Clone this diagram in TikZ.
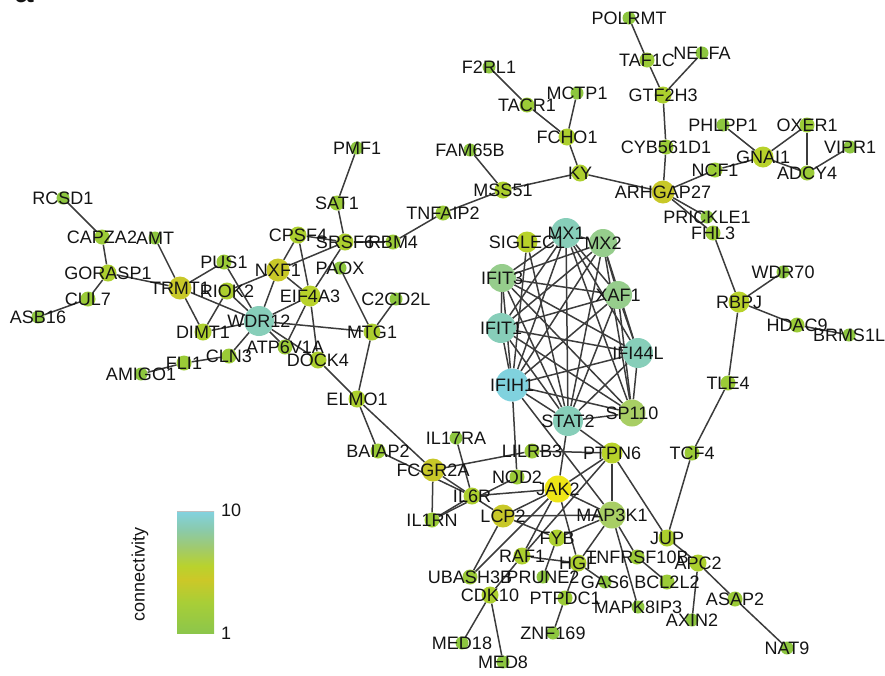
\documentclass[tikz,border=0pt]{standalone}
\usepackage{fontspec}
\setmainfont{Liberation Sans}
\pgfdeclarelayer{background}
\pgfdeclarelayer{fg}
\pgfsetlayers{background,main,fg}
\definecolor{cg1}{RGB}{141,198,63}
\definecolor{cg2}{RGB}{155,203,55}
\definecolor{cg3}{RGB}{172,207,46}
\definecolor{cg4}{RGB}{184,210,42}
\definecolor{cy4}{RGB}{200,200,40}
\definecolor{cjk}{RGB}{238,230,22}
\definecolor{ct6}{RGB}{168,206,100}
\definecolor{ct7}{RGB}{150,205,140}
\definecolor{ct8}{RGB}{135,206,185}
\definecolor{ct10}{RGB}{128,210,222}
\definecolor{edgec}{RGB}{60,60,60}
\definecolor{txt}{RGB}{20,20,20}
\definecolor{lb1}{RGB}{140,198,75}
\definecolor{lb2}{RGB}{168,206,55}
\definecolor{lb3}{RGB}{204,200,40}
\definecolor{lb4}{RGB}{185,210,45}
\definecolor{lb5}{RGB}{160,202,110}
\definecolor{lb6}{RGB}{138,202,172}
\definecolor{lb7}{RGB}{130,210,225}
\pgfdeclareverticalshading{connbar}{100bp}{color(0bp)=(lb1); color(25bp)=(lb1); color(37.5bp)=(lb2); color(47bp)=(lb3); color(52.5bp)=(lb4); color(60bp)=(lb5); color(67.5bp)=(lb6); color(75bp)=(lb7); color(100bp)=(lb7)}
\tikzset{
  vx/.style={circle, inner sep=0pt, draw=none},
  g1/.style={vx, fill=cg1, minimum size=13pt},
  g2/.style={vx, fill=cg2, minimum size=15pt},
  g3/.style={vx, fill=cg3, minimum size=17pt},
  g4/.style={vx, fill=cg4, minimum size=21pt},
  y4/.style={vx, fill=cy4, minimum size=23pt},
  jk/.style={vx, fill=cjk, minimum size=27pt},
  t6/.style={vx, fill=ct6, minimum size=27pt},
  t7/.style={vx, fill=ct7, minimum size=28pt},
  t8/.style={vx, fill=ct8, minimum size=30pt},
  t10/.style={vx, fill=ct10, minimum size=33pt},
  lab/.style={inner sep=0pt, font=\fontsize{18}{20}\selectfont, text=txt},
  edge/.style={draw=edgec, line width=1.5pt},
}
\newcommand\gnode[5]{%
  \node[#4] (#1) at (#2,#3) {};
  \begin{pgfonlayer}{fg}\node[lab] (#1-l) at (#2,#3) {#5};\end{pgfonlayer}}
\begin{document}
\begin{tikzpicture}[x=1pt,y=-1pt]
\useasboundingbox (0,0) rectangle (885,675);
\node[anchor=base, inner sep=0pt, font=\bfseries\fontsize{34}{34}\selectfont, text=txt] (panel) at (24,2.5) {a};
% top right
\gnode{POLRMT}{629}{18}{g1}{POLRMT}
\gnode{TAF1C}{647}{60}{g2}{TAF1C}
\gnode{NELFA}{702}{53}{g1}{NELFA}
\gnode{GTF2H3}{663}{95}{g3}{GTF2H3}
\gnode{CYB561D1}{666}{147}{g2}{CYB561D1}
\gnode{ARHGAP27}{663}{192}{y4}{ARHGAP27}
\gnode{NCF1}{715}{170}{g2}{NCF1}
\gnode{PHLPP1}{723}{125}{g1}{PHLPP1}
\gnode{GNAI1}{763}{157}{g4}{GNAI1}
\gnode{OXER1}{807}{125}{g2}{OXER1}
\gnode{ADCY4}{807}{173}{g2}{ADCY4}
\gnode{VIPR1}{850}{147}{g1}{VIPR1}
\gnode{PRICKLE1}{707}{217}{g1}{PRICKLE1}
\gnode{FHL3}{713}{233}{g2}{FHL3}
% top middle
\gnode{F2RL1}{489}{67}{g1}{F2RL1}
\gnode{TACR1}{527}{105}{g2}{TACR1}
\gnode{MCTP1}{577}{93}{g1}{MCTP1}
\gnode{FCHO1}{567}{137}{g3}{FCHO1}
\gnode{KY}{580}{173}{g3}{KY}
\gnode{FAM65B}{470}{150}{g1}{FAM65B}
\gnode{MSS51}{503}{190}{g3}{MSS51}
\gnode{TNFAIP2}{443}{213}{g2}{TNFAIP2}
\gnode{PMF1}{357}{148}{g1}{PMF1}
\gnode{SAT1}{337}{203}{g2}{SAT1}
% left
\gnode{RCSD1}{63}{198}{g1}{RCSD1}
\gnode{CAPZA2}{102}{237}{g2}{CAPZA2}
\gnode{AMT}{155}{238}{g1}{AMT}
\gnode{GORASP1}{108}{273}{g3}{GORASP1}
\gnode{CUL7}{88}{299}{g2}{CUL7}
\gnode{ASB16}{38}{317}{g1}{ASB16}
\gnode{TRMT1}{180}{288}{y4}{TRMT1}
\gnode{PUS1}{224}{262}{g2}{PUS1}
\gnode{RIOK2}{227}{291}{g3}{RIOK2}
\gnode{NXF1}{278}{270}{y4}{NXF1}
\gnode{CPSF4}{298}{235}{g3}{CPSF4}
\gnode{SRSF6}{345}{242}{g3}{SRSF6}
\gnode{RBM4}{393}{242}{g2}{RBM4}
\gnode{PAOX}{340}{268}{g1}{PAOX}
\gnode{EIF4A3}{310}{296}{g4}{EIF4A3}
\gnode{WDR12}{259}{321}{t8}{WDR12}
\gnode{DIMT1}{203}{332}{g3}{DIMT1}
\gnode{MTG1}{372}{332}{g3}{MTG1}
\gnode{C2CD2L}{396}{299}{g1}{C2CD2L}
\gnode{ATP6V1A}{285}{347}{g2}{ATP6V1A}
\gnode{DOCK4}{318}{360}{g3}{DOCK4}
\gnode{CLN3}{229}{356}{g2}{CLN3}
\gnode{FLI1}{184}{363}{g2}{FLI1}
\gnode{AMIGO1}{141}{374}{g1}{AMIGO1}
\gnode{ELMO1}{357}{399}{g3}{ELMO1}
% interferon cluster
\gnode{MX1}{566}{233}{t8}{MX1}
\gnode{MX2}{603}{243}{t7}{MX2}
\gnode{SIGLEC1}{527}{242}{g4}{SIGLEC1}
\gnode{IFIT3}{502}{278}{t7}{IFIT3}
\gnode{XAF1}{618}{295}{t7}{XAF1}
\gnode{IFIT1}{501}{328}{t8}{IFIT1}
\gnode{IFI44L}{638}{353}{t8}{IFI44L}
\gnode{IFIH1}{512}{385}{t10}{IFIH1}
\gnode{STAT2}{568}{421}{t8}{STAT2}
\gnode{SP110}{632}{413}{t6}{SP110}
% bottom middle
\gnode{BAIAP2}{378}{451}{g2}{BAIAP2}
\gnode{FCGR2A}{433}{470}{y4}{FCGR2A}
\gnode{IL17RA}{456}{438}{g1}{IL17RA}
\gnode{LILRB3}{532}{451}{g2}{LILRB3}
\gnode{NOD2}{517}{477}{g2}{NOD2}
\gnode{JAK2}{558}{489}{jk}{JAK2}
\gnode{IL6R}{472}{496}{g3}{IL6R}
\gnode{IL1RN}{432}{520}{g2}{IL1RN}
\gnode{LCP2}{503}{516}{y4}{LCP2}
\gnode{PTPN6}{612}{453}{g4}{PTPN6}
\gnode{MAP3K1}{612}{515}{t6}{MAP3K1}
\gnode{FYB}{557}{538}{g3}{FYB}
\gnode{RAF1}{522}{556}{g3}{RAF1}
\gnode{HGF}{578}{563}{g3}{HGF}
\gnode{UBASH3B}{470}{577}{g2}{UBASH3B}
\gnode{PRUNE2}{543}{577}{g1}{PRUNE2}
\gnode{CDK10}{490}{595}{g3}{CDK10}
\gnode{PTPDC1}{565}{598}{g2}{PTPDC1}
\gnode{ZNF169}{553}{633}{g1}{ZNF169}
\gnode{MED18}{462}{643}{g1}{MED18}
\gnode{MED8}{503}{662}{g1}{MED8}
\gnode{TCF4}{692}{453}{g2}{TCF4}
\gnode{JUP}{667}{538}{g3}{JUP}
\gnode{TNFRSF10B}{637}{557}{g2}{TNFRSF10B}
\gnode{APC2}{698}{563}{g3}{APC2}
\gnode{GAS6}{605}{582}{g1}{GAS6}
\gnode{BCL2L2}{667}{582}{g2}{BCL2L2}
\gnode{MAPK8IP3}{638}{607}{g1}{MAPK8IP3}
\gnode{ASAP2}{735}{599}{g2}{ASAP2}
\gnode{AXIN2}{692}{620}{g1}{AXIN2}
\gnode{NAT9}{787}{648}{g1}{NAT9}
% right
\gnode{RBPJ}{739}{302}{g4}{RBPJ}
\gnode{WDR70}{783}{272}{g1}{WDR70}
\gnode{HDAC9}{797}{325}{g2}{HDAC9}
\gnode{BRMS1L}{849}{335}{g1}{BRMS1L}
\gnode{TLE4}{728}{383}{g2}{TLE4}
% edges
\begin{pgfonlayer}{background}
\foreach \a/\b in {POLRMT/TAF1C, TAF1C/GTF2H3, NELFA/GTF2H3, GTF2H3/CYB561D1, CYB561D1/ARHGAP27,
  ARHGAP27/NCF1, NCF1/GNAI1, PHLPP1/GNAI1, GNAI1/OXER1, GNAI1/ADCY4, OXER1/ADCY4, ADCY4/VIPR1,
  ARHGAP27/PRICKLE1, ARHGAP27/FHL3, KY/ARHGAP27, FHL3/RBPJ,
  F2RL1/TACR1, TACR1/FCHO1, MCTP1/FCHO1, FCHO1/KY, KY/MSS51, FAM65B/MSS51, MSS51/TNFAIP2,
  TNFAIP2/RBM4, RBM4/SRSF6, PMF1/SAT1, SAT1/SRSF6,
  RCSD1/CAPZA2, CAPZA2/GORASP1, GORASP1/CUL7, CUL7/ASB16, GORASP1/TRMT1, AMT/TRMT1,
  TRMT1/PUS1, TRMT1/DIMT1, TRMT1/WDR12, PUS1/WDR12, RIOK2/DIMT1, RIOK2/NXF1, RIOK2/WDR12,
  DIMT1/WDR12, NXF1/WDR12, NXF1/CPSF4, NXF1/SRSF6, NXF1/EIF4A3, CPSF4/SRSF6, CPSF4/EIF4A3,
  SRSF6/EIF4A3, WDR12/EIF4A3, WDR12/MTG1, WDR12/CLN3, WDR12/ATP6V1A, WDR12/DOCK4,
  EIF4A3/ATP6V1A, EIF4A3/DOCK4, DOCK4/ELMO1, MTG1/ELMO1, MTG1/C2CD2L, PAOX/MTG1,
  CLN3/FLI1, FLI1/AMIGO1,
  ELMO1/BAIAP2, ELMO1/FCGR2A, BAIAP2/IL6R, FCGR2A/IL6R, FCGR2A/IL1RN, FCGR2A/LILRB3,
  IL17RA/IL6R, IL1RN/IL6R, IL1RN/NOD2, IL6R/JAK2, IL6R/LCP2, LILRB3/PTPN6, NOD2/IFIH1,
  SIGLEC1/IFIH1, SIGLEC1/STAT2, IFIH1/MAP3K1,
  JAK2/STAT2, JAK2/PTPN6, JAK2/LCP2, JAK2/HGF, JAK2/RAF1, JAK2/UBASH3B, JAK2/MAP3K1,
  PTPN6/STAT2, PTPN6/RAF1, PTPN6/MAP3K1, PTPN6/JUP,
  LCP2/MAP3K1, LCP2/FYB, LCP2/UBASH3B, FYB/MAP3K1, FYB/PRUNE2, RAF1/HGF, RAF1/CDK10,
  HGF/PTPDC1, HGF/GAS6, MAP3K1/HGF, MAP3K1/TNFRSF10B, TNFRSF10B/BCL2L2, MAP3K1/MAPK8IP3,
  CDK10/MED18, CDK10/MED8, PTPDC1/ZNF169,
  JUP/TCF4, JUP/APC2, APC2/AXIN2, APC2/ASAP2, ASAP2/NAT9,
  RBPJ/WDR70, RBPJ/HDAC9, HDAC9/BRMS1L, RBPJ/TLE4, TLE4/TCF4}
  \draw[edge] (\a) -- (\b);
\foreach \a [count=\i] in {MX1,MX2,IFIT3,XAF1,IFIT1,IFI44L,IFIH1,STAT2,SP110}{
  \foreach \b [count=\j] in {MX1,MX2,IFIT3,XAF1,IFIT1,IFI44L,IFIH1,STAT2,SP110}{
    \ifnum\j>\i \draw[edge] (\a) -- (\b); \fi
  }
}
\end{pgfonlayer}
% legend
\shade[shading=connbar] (177,511) rectangle (214,633);
\draw[draw=black!25, line width=0.8pt] (177,511) -- (214,511);
\node[lab, anchor=west] (leg10) at (221,510) {10};
\node[lab, anchor=west] (leg1) at (221,633) {1};
\node[lab, rotate=90] (legt) at (140,574) {connectivity};
\end{tikzpicture}
\end{document}
